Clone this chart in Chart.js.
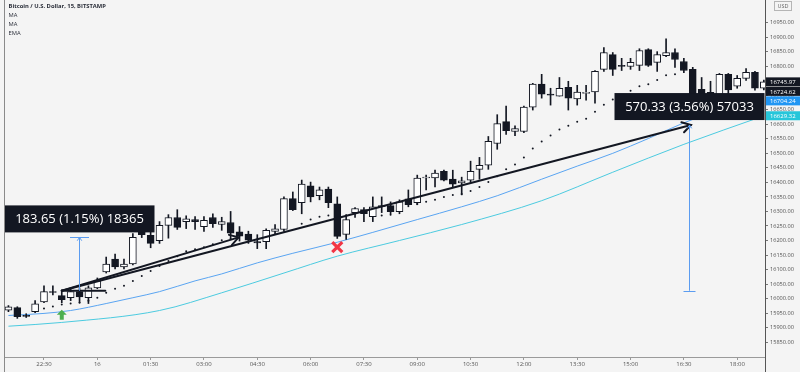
<!DOCTYPE html>
<html lang="en">
<head>
<meta charset="UTF-8">
<title>BTCUSD 15</title>
<style>
  html, body { margin: 0; padding: 0; background: #f4f4f4; }
</style>
</head>
<body>
<canvas id="btcChart" width="800" height="372"></canvas>

<script src="https://cdn.jsdelivr.net/npm/chart.js"></script>
<script>
    // candle number 0 = 22:30, one step = 15 minutes, first candle is 21:30
    const firstCandle = -4;
    const opens = [15960, 15969, 15941, 15955, 15989, 16024, 16010, 16003, 16024, 16003,
        16037, 16092, 16136, 16109, 16119, 16245, 16218, 16199, 16252, 16279,
        16265, 16272, 16248, 16279, 16255, 16262, 16230, 16222, 16196, 16196,
        16231, 16238, 16344, 16330, 16388, 16354, 16377, 16326, 16221, 16296,
        16306, 16282, 16316, 16320, 16299, 16343, 16330, 16415, 16415, 16438,
        16411, 16398, 16408, 16445, 16459, 16534, 16609, 16575, 16575, 16659,
        16738, 16704, 16697, 16727, 16687, 16706, 16711, 16789, 16840, 16803,
        16799, 16803, 16857, 16813, 16836, 16847, 16816, 16789, 16720, 16710,
        16700, 16772, 16731, 16758, 16779, 16724];
    const highs = [15976, 15972, 15948, 15993, 16044, 16044, 16030, 16037, 16037, 16044,
        16071, 16143, 16153, 16136, 16224, 16265, 16230, 16265, 16289, 16306,
        16285, 16282, 16282, 16292, 16280, 16300, 16248, 16232, 16220, 16240,
        16255, 16350, 16367, 16408, 16401, 16384, 16384, 16350, 16289, 16313,
        16313, 16350, 16350, 16333, 16340, 16374, 16425, 16425, 16442, 16442,
        16442, 16418, 16473, 16486, 16558, 16633, 16663, 16595, 16663, 16741,
        16772, 16724, 16761, 16748, 16734, 16734, 16785, 16864, 16847, 16827,
        16827, 16860, 16860, 16850, 16894, 16860, 16827, 16796, 16761, 16748,
        16775, 16775, 16768, 16792, 16782, 16752];
    const lows = [15955, 15932, 15935, 15952, 15986, 16013, 15986, 15993, 15986, 15983,
        16034, 16088, 16102, 16102, 16116, 16210, 16175, 16190, 16208, 16238,
        16241, 16238, 16231, 16245, 16235, 16208, 16198, 16190, 16172, 16172,
        16220, 16231, 16303, 16292, 16333, 16340, 16313, 16207, 16204, 16279,
        16265, 16265, 16296, 16292, 16292, 16316, 16323, 16374, 16384, 16405,
        16384, 16357, 16401, 16411, 16445, 16514, 16565, 16561, 16571, 16649,
        16690, 16666, 16697, 16649, 16666, 16683, 16673, 16782, 16768, 16785,
        16789, 16785, 16799, 16782, 16833, 16796, 16778, 16690, 16680, 16660,
        16680, 16700, 16724, 16751, 16717, 16718];
    const closes = [15972, 15938, 15939, 15982, 16024, 16021, 15996, 16024, 16006, 16037,
        16061, 16119, 16109, 16119, 16211, 16220, 16190, 16252, 16279, 16245,
        16275, 16265, 16269, 16258, 16265, 16225, 16215, 16201, 16192, 16235,
        16240, 16344, 16306, 16394, 16350, 16374, 16330, 16214, 16272, 16310,
        16292, 16316, 16320, 16299, 16333, 16323, 16415, 16418, 16432, 16408,
        16394, 16405, 16438, 16459, 16541, 16602, 16578, 16585, 16659, 16738,
        16704, 16700, 16724, 16690, 16711, 16710, 16782, 16847, 16789, 16799,
        16813, 16854, 16803, 16840, 16847, 16823, 16785, 16695, 16700, 16690,
        16772, 16718, 16758, 16779, 16724, 16746];

    // time axis
    const tickCandles = [0, 6, 12, 18, 24, 30, 36, 42, 48, 54, 60, 66, 72, 78];
    const tickLabels = ['22:30', '16', '01:30', '03:00', '04:30', '06:00', '07:30',
        '09:00', '10:30', '12:00', '13:30', '15:00', '16:30', '18:00'];

    // indicators (candle number, price)
    const maBlueAt = [-4, 0, 3, 7, 10, 13, 17, 20, 24, 28, 33, 37, 42, 47, 51, 56, 60, 64, 68, 72, 76, 81];
    const maBlue = [15942, 15949, 15959, 15983, 16003, 16024, 16061, 16085, 16123, 16156, 16194,
        16228, 16272, 16316, 16354, 16411, 16456, 16500, 16551, 16605, 16650, 16704];
    const maCyanAt = [-4, 2, 13, 20, 27, 33, 40, 47, 56, 64, 72, 81];
    const maCyan = [15905, 15918, 15959, 16020, 16088, 16146, 16200, 16255, 16337, 16435, 16531, 16629];
    const sarAt = [0, 1, 2, 3, 4, 5, 6, 7, 8, 9, 10, 11, 12, 13, 14, 15, 16, 17, 18, 19, 20, 21,
        29, 30, 31, 32, 38, 39,
        42, 43, 44, 45, 46, 47, 48, 49, 50, 51, 52, 53, 54, 55, 56, 57, 58, 59, 60, 61, 62, 63,
        64, 65, 66, 67, 68, 69, 70, 71];
    const sar = [15966, 15973, 15980, 15983, 15986, 15993, 16003, 16020, 16034, 16044, 16061,
        16078, 16095, 16112, 16129, 16146, 16163, 16170, 16177, 16187, 16201, 16206,
        16258, 16272, 16282, 16286, 16286, 16289,
        16326, 16333, 16340, 16350, 16357, 16360, 16370, 16384, 16401, 16421, 16445, 16462,
        16486, 16517, 16541, 16561, 16582, 16595, 16609, 16619, 16643, 16667,
        16685, 16700, 16715, 16731, 16738, 16752, 16769, 16772];

    // price tags on the right axis
    const priceTags = [16745.97, 16724.62, 16704.24, 16629.32];
    const tagColors = ['#131722', '#131722', '#2196f3', '#26c6da'];

    // measuring tools: start candle/price, arrow tip, label
    const measures = [
        {from: 2, base: 16027, to: 21.9, change: 183.65, line: 3.9, text: '183.65 (1.15%) 18365', cap: 'top'},
        {from: 2, base: 16027, to: 72.8, change: 570.33, line: 72.6, text: '570.33 (3.56%) 57033', cap: 'bottom'}
    ];
    const baseLineEnd = 6.9;
    const greenArrow = {at: 2, price: 15944};
    const redCross = {at: 33, price: 16177};

    const legendLines = ['MA', 'MA', 'EMA'];

    const bodies = opens.map((o, k) => ({x: firstCandle + k, y: [o, closes[k]]}));
    const wicks = lows.map((l, k) => ({x: firstCandle + k, y: [l, highs[k]]}));
    const bodyFill = opens.map((o, k) => closes[k] >= o ? '#ffffff' : '#131722');

    function chevron(ctx, x, y, ang, len, spread) {
        ctx.beginPath();
        ctx.moveTo(x - len * Math.cos(ang - spread), y - len * Math.sin(ang - spread));
        ctx.lineTo(x, y);
        ctx.lineTo(x - len * Math.cos(ang + spread), y - len * Math.sin(ang + spread));
        ctx.stroke();
    }

    const overlay = {
        id: 'overlay',
        beforeDraw(chart) {
            const c = chart.ctx;
            c.save();
            c.fillStyle = '#f4f4f4';
            c.fillRect(0, 0, chart.width, chart.height);
            c.restore();
        },
        afterDatasetsDraw(chart) {
            const c = chart.ctx;
            const xs = chart.scales.x, ys = chart.scales.y;
            c.save();
            c.lineCap = 'round';

            // black trend arrows and base line
            measures.forEach(m => {
                const x0 = xs.getPixelForValue(m.from), y0 = ys.getPixelForValue(m.base);
                const x1 = xs.getPixelForValue(m.to), y1 = ys.getPixelForValue(m.base + m.change);
                c.strokeStyle = '#131722';
                c.lineWidth = 2;
                c.beginPath();
                c.moveTo(x0, y0);
                c.lineTo(x1, y1);
                c.stroke();
                chevron(c, x1, y1, Math.atan2(y1 - y0, x1 - x0), 10, 0.55);
            });
            const m0 = measures[0];
            c.beginPath();
            c.moveTo(xs.getPixelForValue(m0.from), ys.getPixelForValue(m0.base));
            c.lineTo(xs.getPixelForValue(baseLineEnd), ys.getPixelForValue(m0.base));
            c.stroke();

            // blue price range lines and labels
            measures.forEach(m => {
                const x = Math.round(xs.getPixelForValue(m.line)) + 0.5;
                const yb = ys.getPixelForValue(m.base), yt = ys.getPixelForValue(m.base + m.change);
                c.strokeStyle = '#5b9cf0';
                c.lineWidth = 1;
                c.lineCap = 'butt';
                c.beginPath();
                c.moveTo(x, yb);
                c.lineTo(x, yt);
                if (m.cap === 'top') {
                    c.moveTo(x - 9.5, Math.round(yt) + 0.5);
                    c.lineTo(x + 9.5, Math.round(yt) + 0.5);
                } else {
                    c.moveTo(x - 6, Math.round(yb) + 0.5);
                    c.lineTo(x + 6, Math.round(yb) + 0.5);
                }
                c.stroke();
                chevron(c, x, yt, -Math.PI / 2, 4, 0.6);

                const bw = 150, bh = 27;
                const bx = x - bw / 2, by = yt - 5 - bh;
                c.fillStyle = '#131722';
                c.fillRect(bx, by, bw, bh);
                c.fillStyle = '#ffffff';
                c.font = '13px "Open Sans"';
                c.textAlign = 'center';
                c.textBaseline = 'middle';
                c.fillText(m.text, x, by + bh / 2 + 0.5);
            });

            // signal markers
            const gx = xs.getPixelForValue(greenArrow.at), gy = ys.getPixelForValue(greenArrow.price);
            c.fillStyle = '#4caf50';
            c.beginPath();
            c.moveTo(gx, gy - 5);
            c.lineTo(gx + 5, gy);
            c.lineTo(gx + 2, gy);
            c.lineTo(gx + 2, gy + 5);
            c.lineTo(gx - 2, gy + 5);
            c.lineTo(gx - 2, gy);
            c.lineTo(gx - 5, gy);
            c.closePath();
            c.fill();

            const rx = xs.getPixelForValue(redCross.at), ry = ys.getPixelForValue(redCross.price);
            c.strokeStyle = '#f23645';
            c.lineWidth = 3.2;
            c.lineCap = 'butt';
            c.beginPath();
            c.moveTo(rx - 5, ry - 5);
            c.lineTo(rx + 5, ry + 5);
            c.moveTo(rx + 5, ry - 5);
            c.lineTo(rx - 5, ry + 5);
            c.stroke();
            c.restore();
        },
        afterDraw(chart) {
            const c = chart.ctx;
            const area = chart.chartArea;
            const ys = chart.scales.y;
            c.save();

            // frame lines
            c.strokeStyle = '#8a8a8a';
            c.lineWidth = 1;
            c.beginPath();
            c.moveTo(Math.round(area.left) + 0.5, 0);
            c.lineTo(Math.round(area.left) + 0.5, chart.height);
            c.stroke();
            c.strokeStyle = '#555';
            c.beginPath();
            c.moveTo(Math.round(area.right) + 0.5, 0);
            c.lineTo(Math.round(area.right) + 0.5, chart.height);
            c.stroke();

            // price tags, pushed apart when they overlap
            let lastY = -100;
            c.font = '6px "Open Sans"';
            c.textBaseline = 'middle';
            c.textAlign = 'left';
            priceTags.forEach((p, k) => {
                let y = ys.getPixelForValue(p);
                if (y < lastY + 9.5) y = lastY + 9.5;
                lastY = y;
                c.fillStyle = tagColors[k];
                c.fillRect(area.right + 1, y - 4.5, chart.width - area.right - 1, 9);
                c.fillStyle = '#ffffff';
                c.fillText(p.toFixed(2), area.right + 5, y + 0.5);
            });

            // currency box
            c.fillStyle = '#f4f4f4';
            c.fillRect(774, 1.5, 17, 9);
            c.strokeStyle = '#b5b5b5';
            c.strokeRect(774.5, 1.5, 17, 9);
            c.fillStyle = '#666';
            c.textAlign = 'center';
            c.font = '5.5px "Open Sans"';
            c.fillText('USD', 783, 6.5);

            // header
            c.textAlign = 'left';
            c.fillStyle = '#2a2e39';
            c.font = 'bold 5.8px "Open Sans"';
            c.fillText('Bitcoin / U.S. Dollar, 15, BITSTAMP', area.left + 4.5, 6);
            c.font = '5.8px "Open Sans"';
            legendLines.forEach((t, k) => c.fillText(t, area.left + 4.5, 15 + k * 9));
            c.restore();
        }
    };

    const btcChart = new Chart(document.getElementById('btcChart'), {
        type: 'bar',
        data: {
            datasets: [
                {
                    label: 'Body',
                    data: bodies,
                    backgroundColor: bodyFill,
                    borderColor: '#131722',
                    borderWidth: 1,
                    borderSkipped: false,
                    barThickness: 7,
                    minBarLength: 1,
                    grouped: false,
                    order: 1
                },
                {
                    label: 'Wick',
                    data: wicks,
                    backgroundColor: '#131722',
                    barThickness: 1,
                    grouped: false,
                    order: 2
                },
                {
                    type: 'line',
                    label: 'SAR',
                    data: sarAt.map((x, k) => ({x: x, y: sar[k]})),
                    showLine: false,
                    pointRadius: 1,
                    pointBorderWidth: 0,
                    pointBackgroundColor: '#131722',
                    order: 3
                },
                {
                    type: 'line',
                    label: 'MA',
                    data: maBlueAt.map((x, k) => ({x: x, y: maBlue[k]})),
                    borderColor: '#5aa5f2',
                    borderWidth: 1,
                    pointRadius: 0,
                    cubicInterpolationMode: 'monotone',
                    order: 4
                },
                {
                    type: 'line',
                    label: 'EMA',
                    data: maCyanAt.map((x, k) => ({x: x, y: maCyan[k]})),
                    borderColor: '#4ccbe0',
                    borderWidth: 1,
                    pointRadius: 0,
                    cubicInterpolationMode: 'monotone',
                    order: 5
                }
            ]
        },
        options: {
            responsive: false,
            animation: false,
            devicePixelRatio: 1,
            layout: { padding: { left: 2, right: 0, top: 0, bottom: 0 } },
            plugins: { legend: { display: false }, tooltip: { enabled: false } },
            scales: {
                x: {
                    type: 'linear',
                    min: -4.5,
                    max: 81.13,
                    offset: false,
                    grid: { offset: false, drawOnChartArea: false, drawTicks: true, tickLength: 3, tickColor: '#999' },
                    border: { color: '#9a9a9a' },
                    afterBuildTicks: scale => { scale.ticks = tickCandles.map(v => ({value: v})); },
                    afterFit: scale => { scale.height = 15; scale.paddingLeft = 0; scale.paddingRight = 0; },
                    ticks: {
                        autoSkip: false,
                        maxRotation: 0,
                        padding: 1,
                        color: '#555',
                        font: { family: 'Open Sans', size: 6 },
                        callback: v => tickLabels[tickCandles.indexOf(v)]
                    }
                },
                y: {
                    position: 'right',
                    min: 15799,
                    max: 17014,
                    grid: { drawOnChartArea: false, drawTicks: true, tickLength: 3, tickColor: '#777' },
                    border: { color: '#555' },
                    afterBuildTicks: scale => { scale.ticks = scale.ticks.filter(t => t.value % 50 === 0); },
                    afterFit: scale => { scale.width = 35; scale.paddingTop = 0; scale.paddingBottom = 0; },
                    ticks: {
                        stepSize: 50,
                        padding: 2,
                        color: '#555',
                        font: { family: 'Open Sans', size: 5.6 },
                        callback: v => v.toFixed(2)
                    }
                }
            }
        },
        plugins: [overlay]
    });
</script>
</body>
</html>
